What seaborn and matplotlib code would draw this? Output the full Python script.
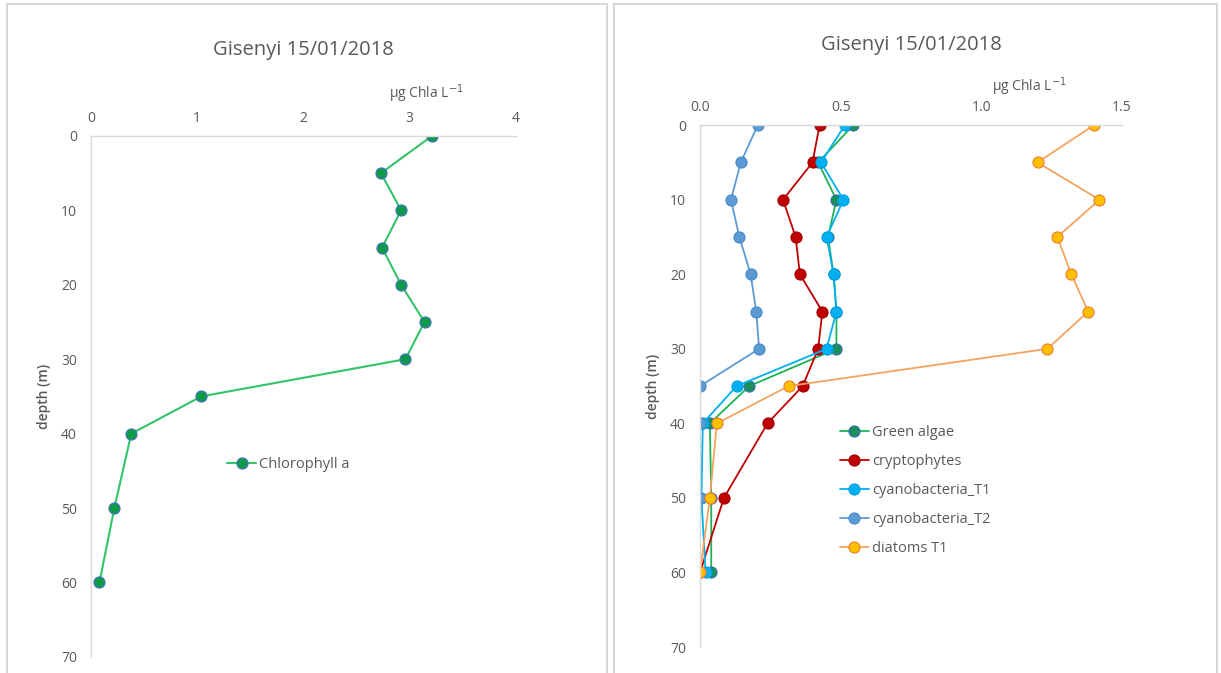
"""
Depth profiles of chlorophyll a and phytoplankton groups, Gisenyi 15/01/2018.
"""

import matplotlib
matplotlib.use("Agg")
import matplotlib.pyplot as plt
import seaborn as sns
from matplotlib.patches import Rectangle

# depth (m) of each sample
depth = [0, 5, 10, 15, 20, 25, 30, 35, 40, 50, 60]

# left panel: total chlorophyll a (ug Chla / L)
chl_a = [3.21, 2.73, 2.92, 2.74, 2.92, 3.14, 2.96, 1.04, 0.38, 0.22, 0.08]

# right panel: algal groups (ug Chla / L)
green_algae = [0.545, 0.42, 0.485, 0.455, 0.475, 0.485, 0.485, 0.175, 0.035, 0.04, 0.04]
cryptophytes = [0.425, 0.40, 0.295, 0.34, 0.355, 0.435, 0.42, 0.365, 0.24, 0.085, 0.0]
cyano_t1 = [0.515, 0.43, 0.51, 0.45, 0.475, 0.485, 0.45, 0.13, 0.01, 0.005, 0.02]
cyano_t2 = [0.205, 0.145, 0.11, 0.14, 0.18, 0.20, 0.21, 0.0, 0.0, 0.0, 0.0]
diatoms_t1 = [1.40, 1.20, 1.42, 1.27, 1.32, 1.38, 1.235, 0.315, 0.06, 0.035, 0.0]

left_ticks = [0, 1, 2, 3, 4]
right_ticks = [0.0, 0.5, 1.0, 1.5]
depth_ticks = [0, 10, 20, 30, 40, 50, 60, 70]

title = "Gisenyi 15/01/2018"
unit_label = "µg Chla L$^{-1}$"

sns.set_style("white")
plt.rcParams["font.family"] = ["Open Sans", "DejaVu Sans"]

TXT = "#595959"
AXC = "#d9d9d9"

fig = plt.figure(figsize=(12.21, 6.73), dpi=100)

# panel frames (the two charts sit in their own boxes)
for x0, w in [(0.006, 0.491), (0.503, 0.494)]:
    fig.patches.append(Rectangle((x0, -0.01), w, 1.004, transform=fig.transFigure,
                                 fill=False, edgecolor="#d0d0d0", lw=1.2))

ax_l = fig.add_axes([0.0745, 0.024, 0.348, 0.774])
ax_r = fig.add_axes([0.5733, 0.0386, 0.3456, 0.7754])


def style_axis(ax, xticks, xlim, xfmt, title_pad, unit_xy):
    ax.set_ylim(70, 0)
    ax.set_xlim(*xlim)
    ax.set_xticks(xticks)
    ax.set_xticklabels([xfmt.format(t) for t in xticks])
    ax.set_yticks(depth_ticks)
    ax.xaxis.tick_top()
    ax.tick_params(axis="both", length=0, labelsize=10, colors=TXT)
    ax.tick_params(axis="x", pad=7)
    ax.tick_params(axis="y", pad=10)
    for side in ["right", "bottom"]:
        ax.spines[side].set_visible(False)
    for side in ["top", "left"]:
        ax.spines[side].set_color(AXC)
        ax.spines[side].set_linewidth(1.0)
    ax.set_ylabel("depth (m)", color=TXT, fontsize=10, fontweight="semibold", labelpad=7)
    ax.set_xlabel("")
    ax.set_title(title, color=TXT, fontsize=14.5, pad=title_pad)
    ax.annotate(unit_label, xy=unit_xy, xycoords="axes fraction", ha="center",
                va="bottom", color=TXT, fontsize=10)
    ax.grid(False)


# left panel
sns.lineplot(x=chl_a, y=depth, sort=False, estimator=None, ax=ax_l,
             color="#33c46a", lw=1.5, marker="o", markersize=8,
             markerfacecolor="#0f9a4a", markeredgecolor="#4472c4",
             markeredgewidth=0.8, label="Chlorophyll a")
style_axis(ax_l, left_ticks, (0, 4), "{:g}", 58, (0.79, 1.06))
ax_l.legend(loc="center left", bbox_to_anchor=(0.29, 0.37), frameon=False,
            fontsize=10.5, labelcolor=TXT, handlelength=2.0, handletextpad=0.2)

# right panel
series = [
    ("Green algae", green_algae, "#1fb056", "#1a8f5a", "#3a6fb5"),
    ("cryptophytes", cryptophytes, "#c00000", "#c00000", "#a00000"),
    ("cyanobacteria_T1", cyano_t1, "#00b0f0", "#00b0f0", "#00a0e0"),
    ("cyanobacteria_T2", cyano_t2, "#5b9bd5", "#5b9bd5", "#4a8ac8"),
    ("diatoms T1", diatoms_t1, "#f4a460", "#ffc000", "#ed7d31"),
]
for name, vals, lc, fc, ec in series:
    sns.lineplot(x=vals, y=depth, sort=False, estimator=None, ax=ax_r,
                 color=lc, lw=1.3, marker="o", markersize=8,
                 markerfacecolor=fc, markeredgecolor=ec, markeredgewidth=0.8,
                 label=name)
style_axis(ax_r, right_ticks, (0, 1.5), "{:.1f}", 54, (0.78, 1.052))
ax_r.legend(loc="center left", bbox_to_anchor=(0.30, 0.30), frameon=False,
            fontsize=10.5, labelcolor=TXT, handlelength=2.0, handletextpad=0.2,
            labelspacing=0.95)

fig.savefig("out.png", dpi=100)
plt.close(fig)
